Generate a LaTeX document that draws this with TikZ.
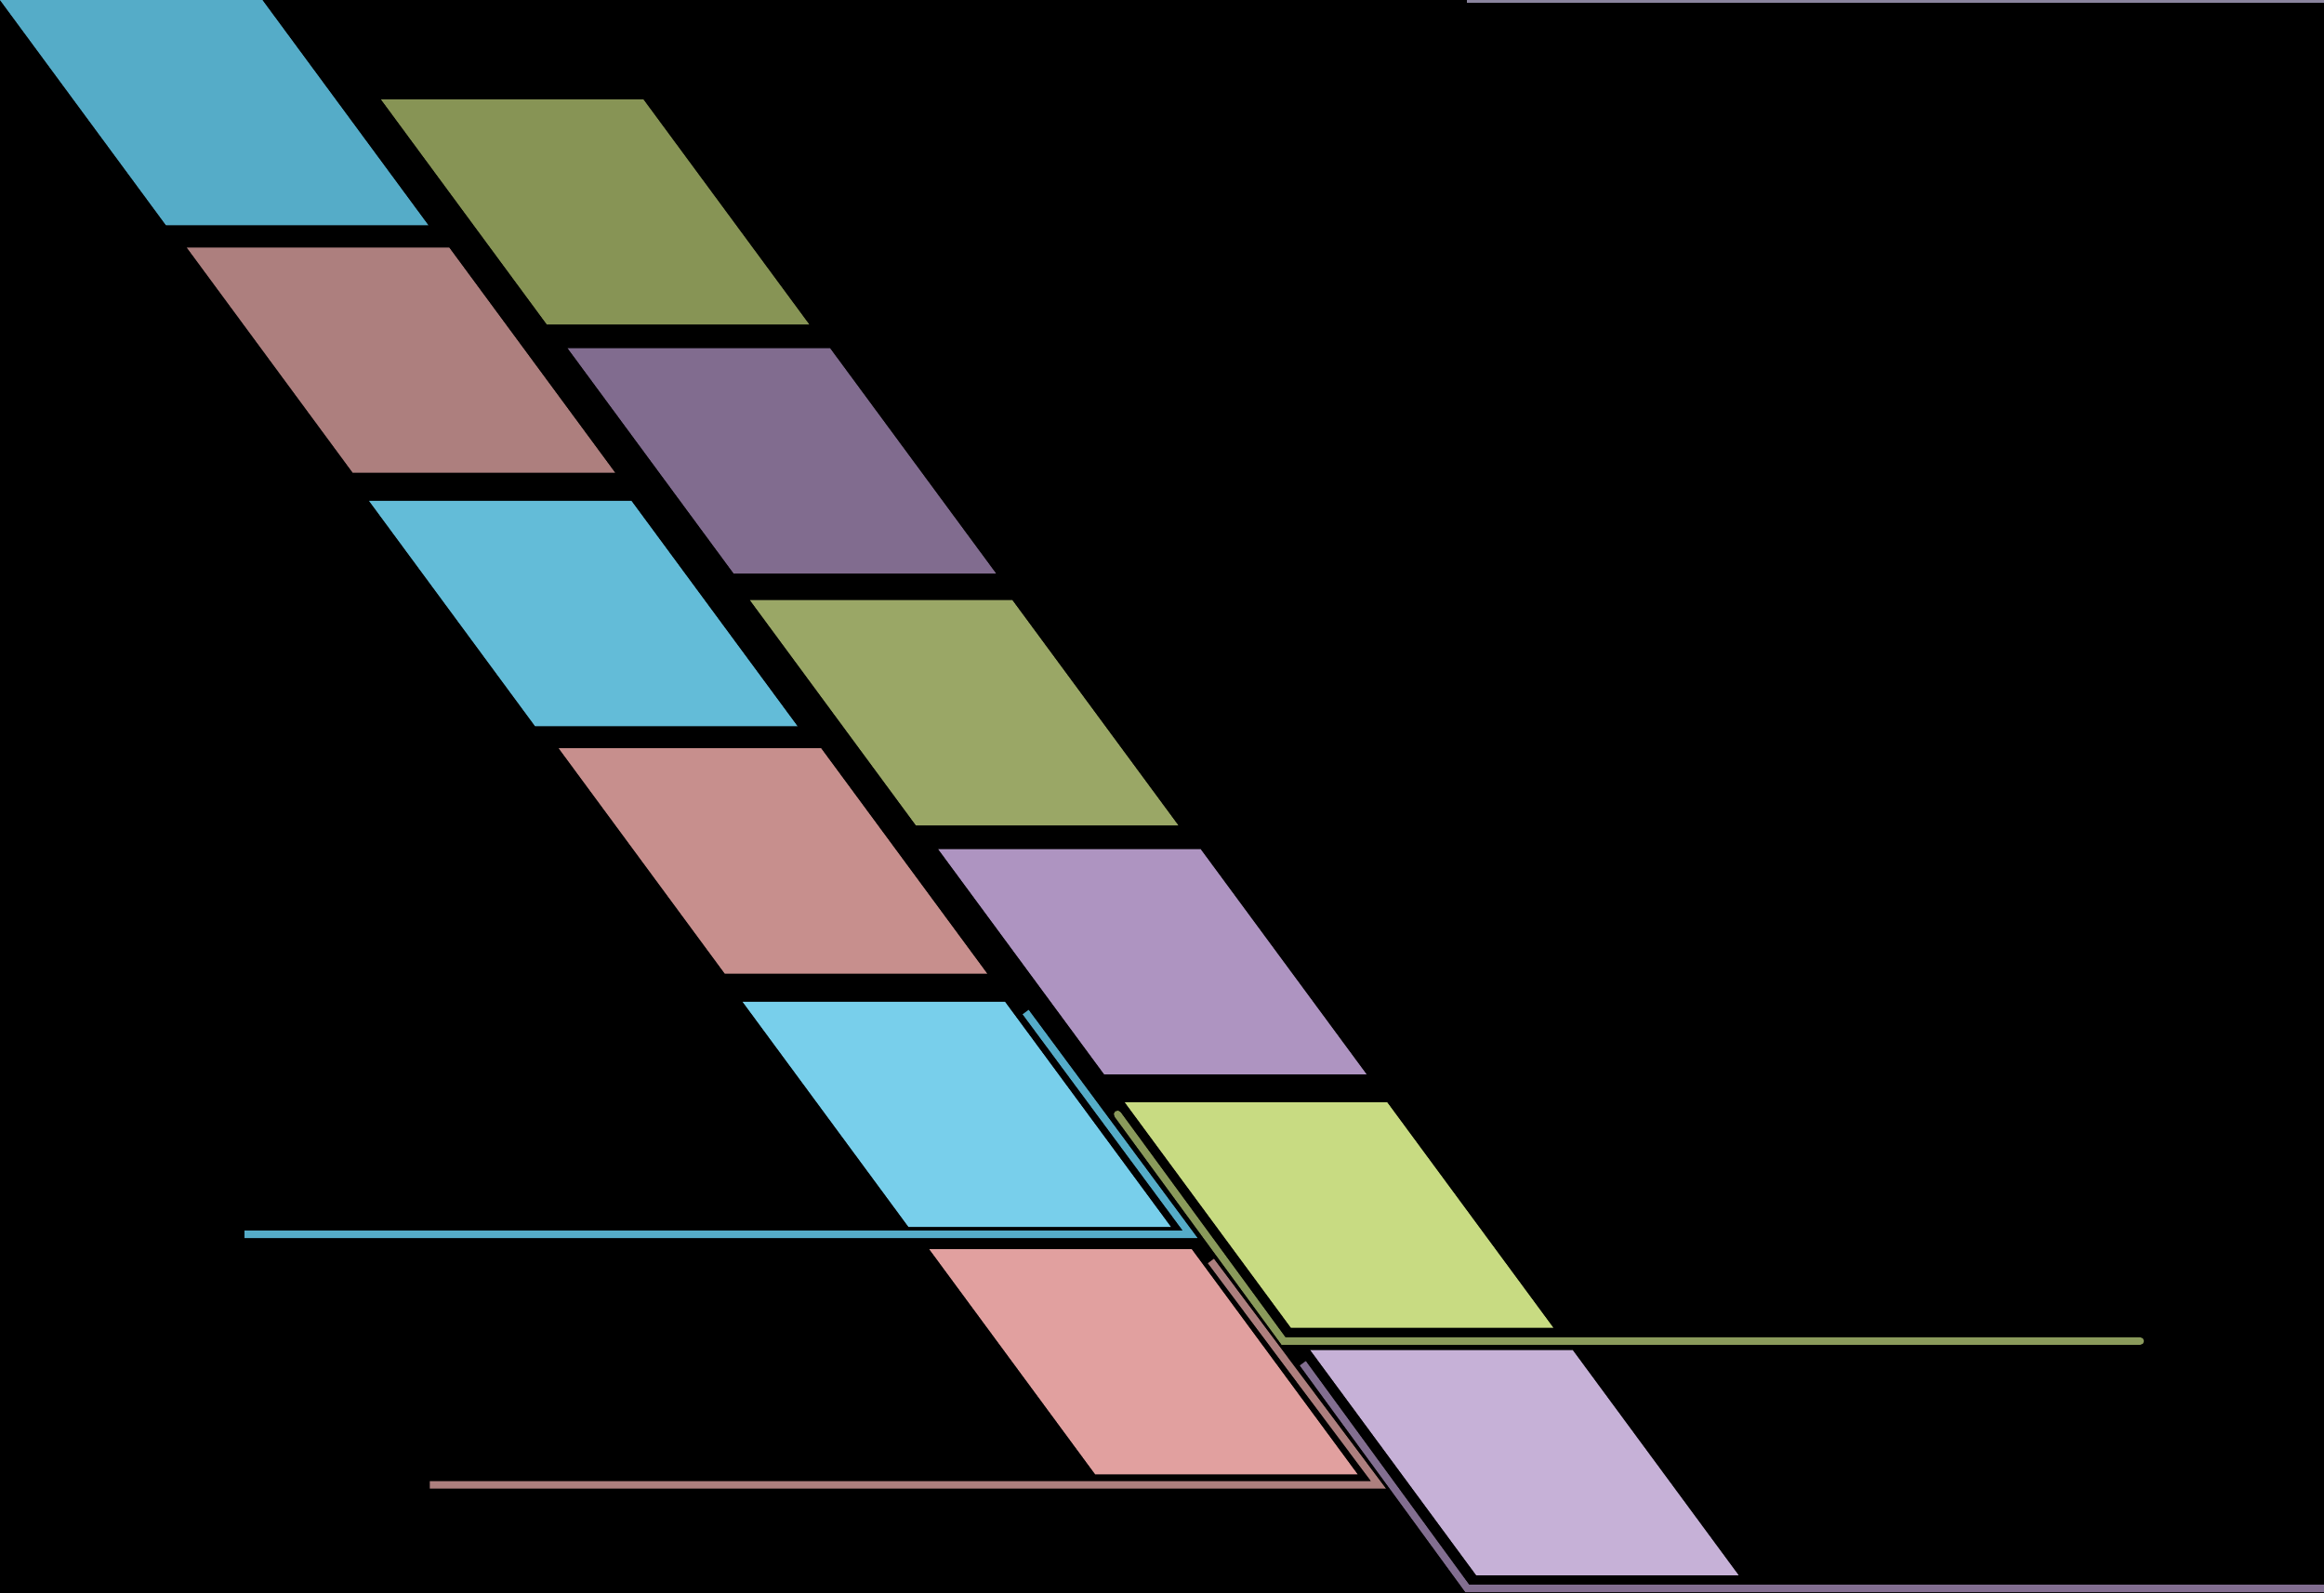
\documentclass[tikz,border=0pt]{standalone}
\begin{document}
\begin{tikzpicture}[x=1pt,y=-1pt,
  plate/.style={fill=#1},
  link/.style={draw=#1,line width=5pt,line join=miter}]
\definecolor{cA}{HTML}{55ACC8}
\definecolor{cB}{HTML}{AD7F7E}
\definecolor{cC}{HTML}{63BCD8}
\definecolor{cD}{HTML}{C78F8D}
\definecolor{cE}{HTML}{78CFEB}
\definecolor{cF}{HTML}{E1A09F}
\definecolor{dA}{HTML}{879455}
\definecolor{dB}{HTML}{816C8F}
\definecolor{dC}{HTML}{9AA766}
\definecolor{dD}{HTML}{AE94C1}
\definecolor{dE}{HTML}{C8DB82}
\definecolor{dF}{HTML}{C6B1D7}
\definecolor{lBlue}{HTML}{55ACC8}
\definecolor{lOlive}{HTML}{8A9A5B}
\definecolor{lRose}{HTML}{AD7F7E}
\definecolor{lPurple}{HTML}{826E90}
\definecolor{lTop}{HTML}{8A849E}
\fill[black] (0,0) rectangle (1568,1075);
\useasboundingbox (0,0) rectangle (1568,1075);
% parallelograms: top-left corner, width 177, height 152, slant 112
\foreach \c/\x/\y in {cA/0/0, cB/126/167, cC/249/338, cD/377/505, cE/501/676, cF/627/843,
                      dA/257/67, dB/383/235, dC/506/405, dD/633/573, dE/759/744, dF/884/911}{
  \fill[plate=\c] (\x,\y) -- ++(177,0) -- ++(112,152) -- ++(-177,0) -- cycle;
}
% connector end points
\coordinate (b1) at (692,683); \coordinate (b2) at (803,833); \coordinate (b3) at (165,833);
\coordinate (o1) at (754,752); \coordinate (o2) at (866,905); \coordinate (o3) at (1444,905);
\coordinate (r1) at (817,851); \coordinate (r2) at (930,1002); \coordinate (r3) at (290,1002);
\coordinate (p1) at (879,920); \coordinate (p2) at (990,1072); \coordinate (p3) at (1568,1072);
\coordinate (t1) at (990,1); \coordinate (t2) at (1568,1);
\draw[link=lBlue] (b1) -- (b2) -- (b3);
\draw[link=lOlive,line cap=round] (o1) -- (o2) -- (o3);
\draw[link=lRose] (r1) -- (r2) -- (r3);
\draw[link=lPurple] (p1) -- (p2) -- (p3);
\draw[draw=lTop,line width=2pt] (t1) -- (t2);
\end{tikzpicture}
\end{document}
